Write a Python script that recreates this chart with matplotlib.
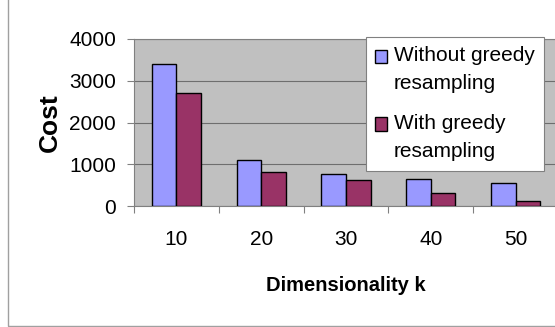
import numpy as np
import matplotlib.pyplot as plt
from matplotlib.patches import Rectangle
from matplotlib.container import BarContainer
from matplotlib.legend_handler import HandlerPatch, update_from_first_child

# values
k_labels = ['10', '20', '30', '40', '50']
without_greedy = [3400, 1100, 770, 640, 540]
with_greedy = [2700, 810, 630, 320, 125]
y_ticks = [0, 1000, 2000, 3000, 4000]

plt.rcParams['font.family'] = ['Liberation Sans', 'DejaVu Sans']

fig = plt.figure(figsize=(5.55, 3.27), dpi=100)

# chart area border (top and right are cut off in the original)
fig.patches.append(Rectangle((8 / 555, 1.5 / 327), 1.2, 1.2, transform=fig.transFigure,
                             fill=False, edgecolor='#a0a0a0', lw=1))

# plot area runs a bit past the right edge of the picture
ax = fig.add_axes([134 / 555, 121 / 327, 424 / 555, 167 / 327])
ax.set_facecolor('#c0c0c0')

x = np.arange(len(k_labels))
w = 0.29
ax.bar(x - w / 2, without_greedy, w, color='#9999ff', edgecolor='black', lw=1,
       label='Without greedy\nresampling', zorder=3)
ax.bar(x + w / 2, with_greedy, w, color='#993366', edgecolor='black', lw=1,
       label='With greedy\nresampling', zorder=3)

ax.grid(axis='y', color='#6e6e6e', lw=0.8)
ax.set_axisbelow(True)

ax.set_xlim(-0.5, len(k_labels) - 0.5)
ax.set_xticks(np.arange(-0.5, len(k_labels), 1))
ax.set_xticklabels([])
ax.set_xticks(x, k_labels, minor=True)
ax.tick_params(axis='x', which='major', length=5, color='#808080', direction='out')
ax.tick_params(axis='x', which='minor', length=0, pad=17, labelsize=15)

ax.set_ylim(0, 4000)
ax.set_yticks(y_ticks)
ax.tick_params(axis='y', length=5, color='#808080', pad=8, labelsize=15)

for s in ax.spines.values():
    s.set_color('#808080')
    s.set_linewidth(0.8)

ax.set_xlabel('Dimensionality k', fontsize=14.5, fontweight='bold')
ax.xaxis.set_label_coords(0.5, -0.418)
ax.set_ylabel('Cost', fontsize=19, fontweight='bold')
ax.yaxis.set_label_coords(-0.170, 0.5)


# legend squares sit next to the first line of each two-line label
def top_patch(legend, orig_handle, xdescent, ydescent, width, height, fontsize):
    return Rectangle((-xdescent, -ydescent + 10), width, height)


hm = {BarContainer: HandlerPatch(patch_func=top_patch, update_func=update_from_first_child)}
leg = ax.legend(loc='upper left', bbox_to_anchor=(0.5465, 1.012), borderaxespad=0,
                fontsize=15, fancybox=False, edgecolor='#808080', framealpha=1,
                borderpad=0.45, handlelength=0.57, handleheight=0.6, handletextpad=0.34,
                labelspacing=1.0, handler_map=hm)
leg.get_frame().set_linewidth(0.8)
for t in leg.get_texts():
    t.set_linespacing(1.6)

fig.savefig('out.png', dpi=100)
